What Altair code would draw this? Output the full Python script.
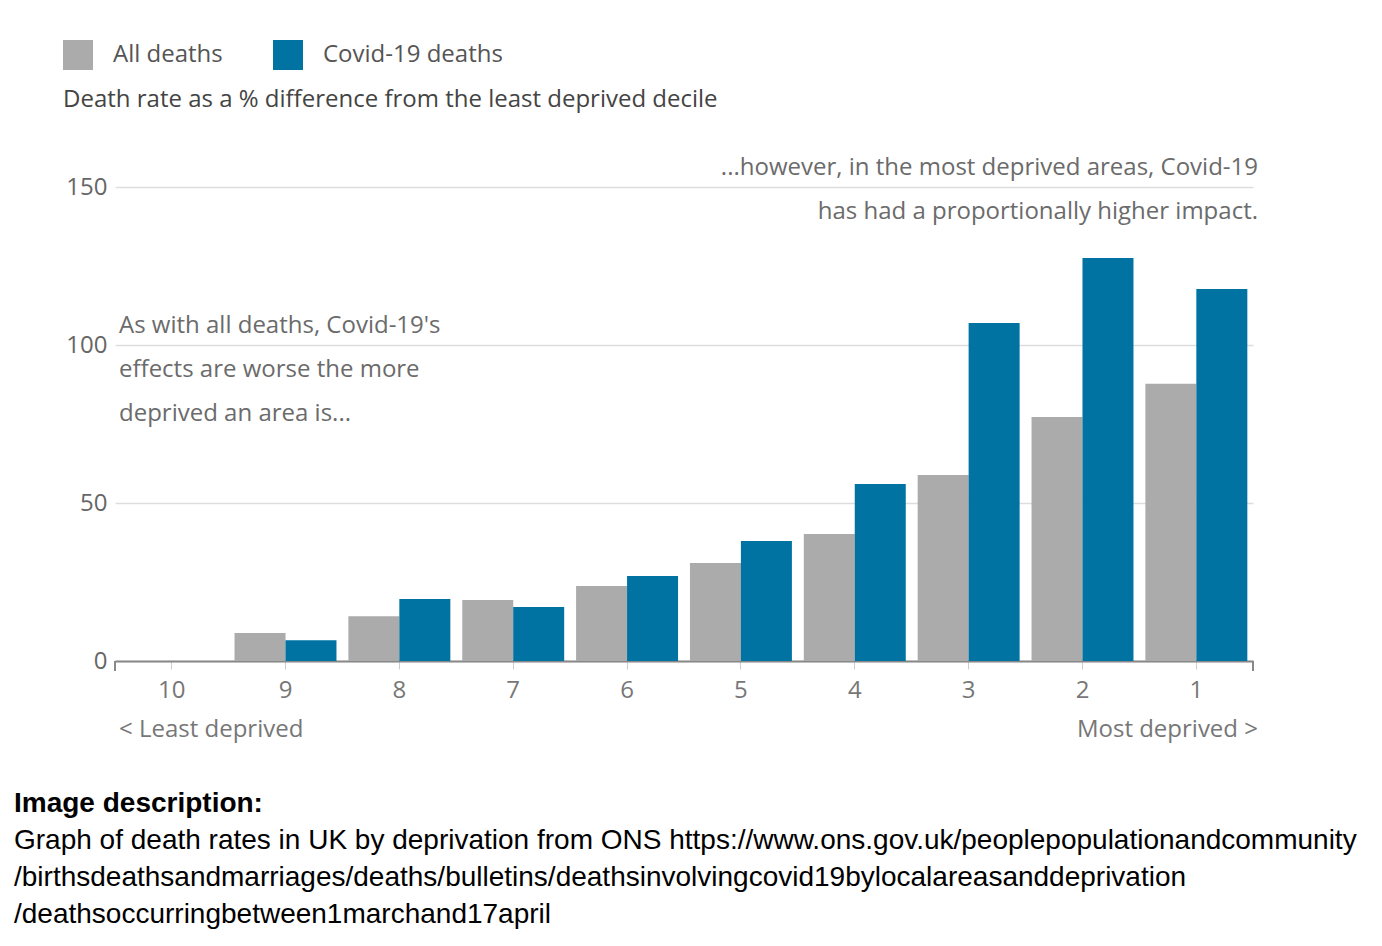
import altair as alt
import pandas as pd

deciles = ["10", "9", "8", "7", "6", "5", "4", "3", "2", "1"]
all_deaths = [0, 8.9, 14.2, 19.3, 23.7, 31.0, 40.2, 58.9, 77.2, 87.7]
covid_deaths = [0, 6.6, 19.6, 17.1, 26.9, 38.0, 56.0, 107.0, 127.5, 117.7]
series = ["All deaths", "Covid-19 deaths"]
colors = ["#ababab", "#0073a3"]

rows = []
for d, a, c in zip(deciles, all_deaths, covid_deaths):
    rows.append({"decile": d, "series": series[0], "value": a})
    rows.append({"decile": d, "series": series[1], "value": c})
df = pd.DataFrame(rows)

FONT = "Open Sans"
FS = 24
W, H = 1138, 474

bars = alt.Chart(df).mark_bar(size=51).encode(
    x=alt.X("decile:N", sort=deciles, title=None,
            scale=alt.Scale(paddingInner=0.105, paddingOuter=0.05),
            axis=alt.Axis(labelAngle=0, labelFontSize=FS, labelColor="#777777",
                          labelFont=FONT, labelPadding=9, domainColor="#888888",
                          domainWidth=2, tickColor="#cccccc", tickSize=8, grid=False)),
    xOffset=alt.XOffset("series:N", sort=series),
    y=alt.Y("value:Q", title=None,
            scale=alt.Scale(domain=[0, 150]),
            axis=alt.Axis(values=[0, 50, 100, 150], labelFontSize=FS, labelColor="#666666",
                          labelFont=FONT, labelPadding=8, domain=False, ticks=False,
                          gridColor="#dddddd", gridWidth=1.5)),
    color=alt.Color("series:N", sort=series,
                    scale=alt.Scale(domain=series, range=colors),
                    legend=alt.Legend(title=None, orient="none", legendX=-52, legendY=-147,
                                      direction="horizontal", symbolType="square",
                                      symbolSize=900, symbolStrokeWidth=0, labelFontSize=FS,
                                      labelFont=FONT, labelColor="#555555", labelOffset=20,
                                      labelLimit=0, columnPadding=50, symbolOpacity=1)),
)

end_ticks = alt.Chart(pd.DataFrame({"t": [0]})).mark_rule(color="#888888", strokeWidth=2).encode(
    x=alt.value(0), y=alt.value(H), y2=alt.value(H + 10)
)
end_ticks2 = alt.Chart(pd.DataFrame({"t": [0]})).mark_rule(color="#888888", strokeWidth=2).encode(
    x=alt.value(W), y=alt.value(H), y2=alt.value(H + 10)
)

def text_layer(lines, x, y0, dy, align, size=FS, color="#6b6b6b", font=FONT, weight="normal"):
    layers = []
    for i, line in enumerate(lines):
        layers.append(
            alt.Chart(pd.DataFrame({"t": [line]})).mark_text(
                align=align, baseline="middle", fontSize=size, font=font,
                color=color, fontWeight=weight
            ).encode(text="t:N", x=alt.value(x), y=alt.value(y0 + i * dy))
        )
    return layers

subtitle = ["Death rate as a % difference from the least deprived decile"]
left_note = ["As with all deaths, Covid-19's", "effects are worse the more", "deprived an area is..."]
right_note = ["...however, in the most deprived areas, Covid-19", "has had a proportionally higher impact."]
desc_title = ["Image description:"]
desc_lines = [
    "Graph of death rates in UK by deprivation from ONS https://www.ons.gov.uk/peoplepopulationandcommunity",
    "/birthsdeathsandmarriages/deaths/bulletins/deathsinvolvingcovid19bylocalareasanddeprivation",
    "/deathsoccurringbetween1marchand17april",
]

layers = [bars, end_ticks, end_ticks2]
layers += text_layer(subtitle, -52, -87, 0, "left", color="#444444")
layers += text_layer(left_note, 4, 139, 44, "left")
layers += text_layer(right_note, W + 5, -19, 44, "right")
layers += text_layer(["< Least deprived"], 4, 543, 0, "left", color="#777777")
layers += text_layer(["Most deprived >"], W + 5, 543, 0, "right", color="#777777")
layers += text_layer(desc_title, -101, 617, 0, "left", size=28, color="#000000",
                     font="Liberation Sans", weight="bold")
layers += text_layer(desc_lines, -101, 654, 37, "left", size=28, color="#000000",
                     font="Liberation Sans")

chart = alt.layer(*layers).properties(
    width=W, height=H,
    background="#ffffff",
    autosize=alt.AutoSizeParams(type="none"),
    padding={"left": 115, "top": 187, "right": 1382 - 115 - W, "bottom": 946 - 187 - H},
).configure_view(stroke=None)

chart.save("out.html", embed_options={"renderer": "svg", "actions": False})
